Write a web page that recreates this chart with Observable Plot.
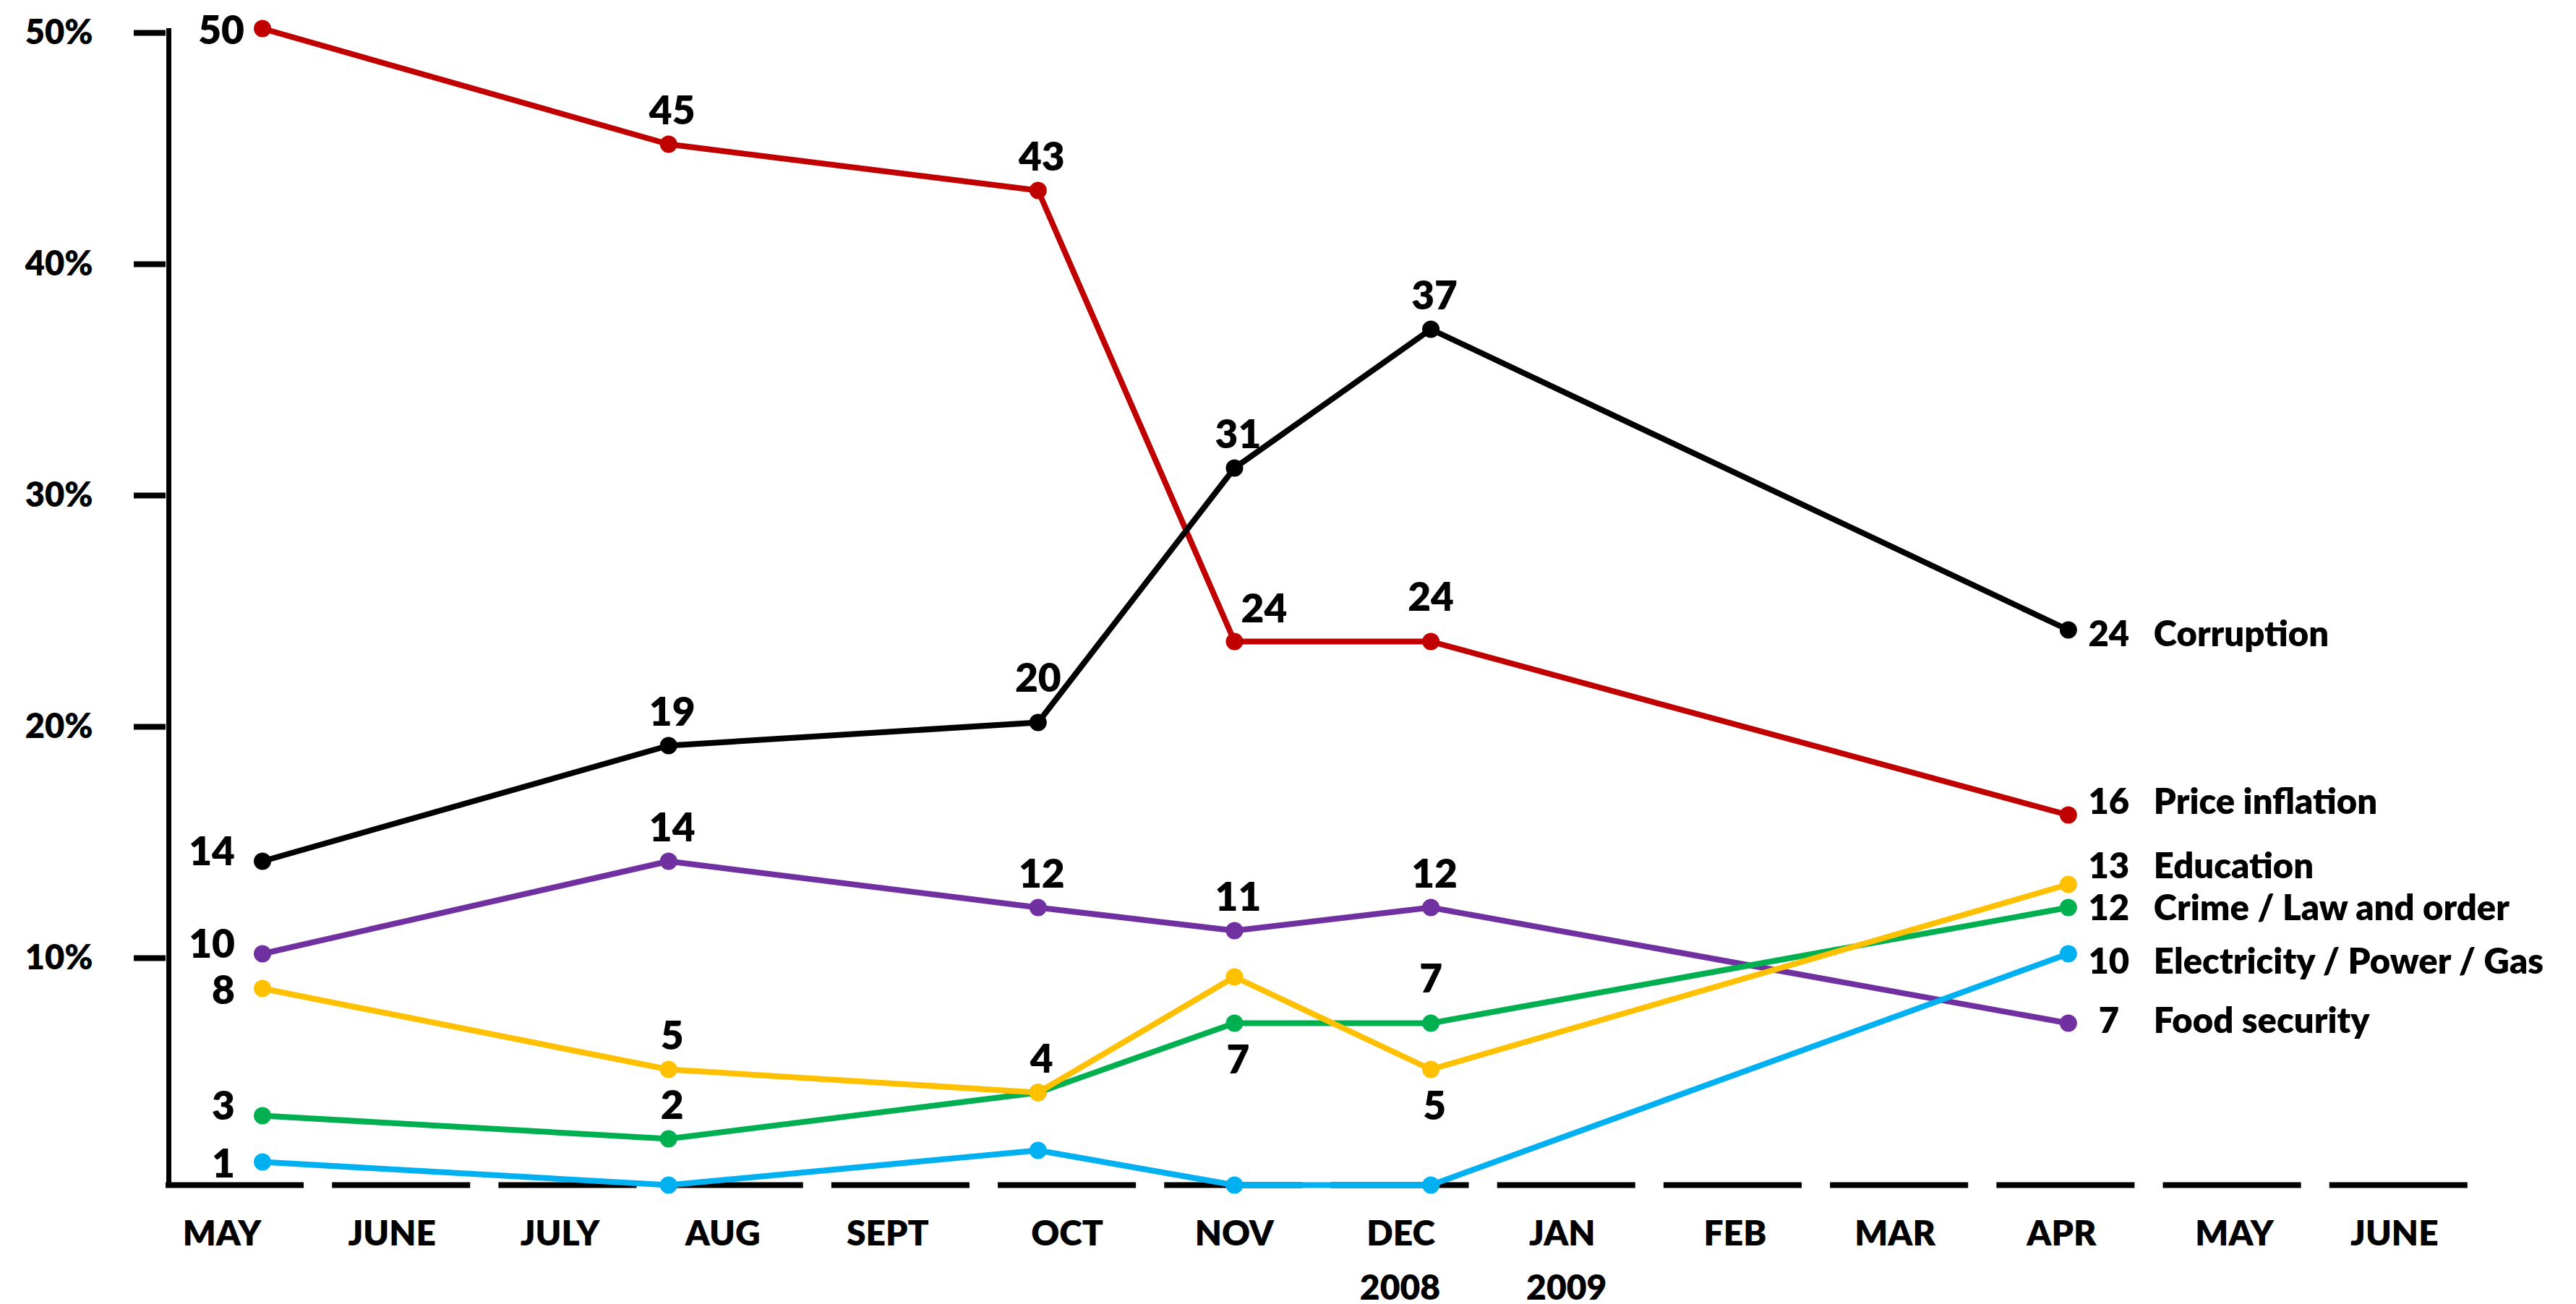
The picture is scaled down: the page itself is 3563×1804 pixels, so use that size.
<!DOCTYPE html>
<html>
<head>
<meta charset="utf-8">
<script src="https://cdn.jsdelivr.net/npm/d3@7"></script>
<script src="https://cdn.jsdelivr.net/npm/@observablehq/plot@0.6"></script>
<style>
  html, body { margin: 0; padding: 0; background: #fff; }
  svg { display: block; }
</style>
</head>
<body>
<div id="chart"></div>
<script>
// ---------- DATA ----------
const months = ["MAY","JUNE","JULY","AUG","SEPT","OCT","NOV","DEC","JAN","FEB","MAR","APR","MAY","JUNE"];
const yearLabels = ["2008", "2009"];          // under DEC and JAN
const yearLabelMonths = [7, 8];
// survey dates, in months since the start of May 2008
const surveyMonths = [0.58, 3.02, 5.24, 6.42, 7.60, 11.43];
const yTicks = [10, 20, 30, 40, 50];

const seriesNames = ["Food security", "Crime / Law and order", "Education", "Electricity / Power / Gas", "Price inflation", "Corruption"];
const seriesColors = ["#7030A0", "#00B050", "#FFC000", "#00B0F0", "#C00000", "#000000"];

const foodSecurity   = [10, 14, 12, 11, 12, 7];
const crime          = [3, 2, 4, 7, 7, 12];
const education      = [8.5, 5, 4, 9, 5, 13];
const electricity    = [1, 0, 1.5, 0, 0, 10];
const priceInflation = [50, 45, 43, 23.5, 23.5, 16];
const corruption     = [14, 19, 20, 31, 37, 24];

const foodSecurityLabels   = ["10", "14", "12", "11", "12", "7"];
const crimeLabels          = ["3", "2", null, "7", "7", "12"];
const educationLabels      = ["8", "5", "4", null, "5", "13"];
const electricityLabels    = ["1", null, null, null, null, "10"];
const priceInflationLabels = ["50", "45", "43", "24", "24", "16"];
const corruptionLabels     = ["14", "19", "20", "31", "37", "24"];

// ---------- LAYOUT (label placement) ----------
const monthLabelNudgePx = [-18, -13, -11, -16, -18, 0, 1, 1, -6, 3, -6, -6, 3, -6];
const placement = {
  "Food security":             ["left", "above", "above", "above", "above", "end"],
  "Crime / Law and order":     ["left", "above", null, "below", "above2", "end"],
  "Education":                 ["leftLow", "above", "above", null, "below", "end"],
  "Electricity / Power / Gas": ["leftLow", null, null, null, null, "end"],
  "Price inflation":           ["leftTop", "above", "above", "aboveRight", "above2", "end"],
  "Corruption":                ["left", "above", "above2", "above", "above", "end"]
};
const offsets = {
  left:       {dx: -38, dy: -12, textAnchor: "end"},
  leftLow:    {dx: -38, dy: 4,   textAnchor: "end"},
  leftTop:    {dx: -25, dy: 4,   textAnchor: "end"},
  above:      {dx: 5,   dy: -45, textAnchor: "middle"},
  above2:     {dx: 0,   dy: -60, textAnchor: "middle"},
  below:      {dx: 5,   dy: 52,  textAnchor: "middle"},
  aboveRight: {dx: 41,  dy: -44, textAnchor: "middle"}
};
const endDy = {
  "Corruption": 7, "Price inflation": -17, "Education": -24,
  "Crime / Law and order": 2, "Electricity / Power / Gas": 12, "Food security": -2
};

const valueArrays = [foodSecurity, crime, education, electricity, priceInflation, corruption];
const labelArrays = [foodSecurityLabels, crimeLabels, educationLabels, electricityLabels, priceInflationLabels, corruptionLabels];

const rows = [];
seriesNames.forEach((name, s) => {
  valueArrays[s].forEach((v, i) => {
    rows.push({series: name, x: surveyMonths[i], y: v, label: labelArrays[s][i], place: placement[name][i]});
  });
});

const FONT = "Lato, 'Open Sans', sans-serif";
const WEIGHT = 800;
const PX_PER_MONTH = (3563 - 229 - 111) / 14;

const valueLabelMarks = Object.entries(offsets).map(([code, o]) =>
  Plot.text(rows.filter(r => r.place === code && r.label != null), {
    x: "x", y: "y", text: "label", dx: o.dx, dy: o.dy, textAnchor: o.textAnchor,
    fontSize: 55, fontWeight: WEIGHT, fill: "black"
  })
);

const endRows = rows.filter(r => r.place === "end");
const endMarks = seriesNames.flatMap(name => {
  const d = endRows.filter(r => r.series === name);
  return [
    Plot.text(d, {x: "x", y: "y", text: "label", dx: 56, dy: endDy[name], textAnchor: "middle",
      fontSize: 49, fontWeight: WEIGHT, fill: "black"}),
    Plot.text(d, {x: "x", y: "y", text: "series", dx: 118, dy: endDy[name], textAnchor: "start",
      fontSize: 49, fontWeight: WEIGHT, fill: "black"})
  ];
});

const monthIdx = months.map((m, i) => i);

const chart = Plot.plot({
  width: 3563,
  height: 1804,
  marginLeft: 229,
  marginRight: 111,
  marginTop: 39,
  marginBottom: 165,
  style: {fontFamily: FONT, background: "white", color: "black", overflow: "visible"},
  x: {domain: [0, 14], axis: null},
  y: {domain: [0, 50]},
  color: {domain: seriesNames, range: seriesColors},
  marks: [
    // dashed baseline: one dash per month
    Plot.ruleY(monthIdx, {x1: d => d, x2: d => d + 0.83, y: 0, stroke: "black", strokeWidth: 8}),
    // vertical axis line
    Plot.ruleX([0], {y1: 0, y2: 50, stroke: "black", strokeWidth: 7, dx: 4}),
    Plot.axisY({
      ticks: yTicks, tickFormat: d => d + "%", tickSize: 44, tickPadding: 57,
      strokeWidth: 8, fontSize: 47, fontWeight: WEIGHT, label: null, dy: 6
    }),
    // month labels
    Plot.text(months, {x: (d, i) => i + 0.415 + monthLabelNudgePx[i] / PX_PER_MONTH, y: 0, text: d => d, dy: 68,
      fontSize: 48, fontWeight: WEIGHT, fill: "black"}),
    Plot.text(yearLabels, {x: (d, i) => yearLabelMonths[i] + 0.415, y: 0, text: d => d, dy: 143,
      fontSize: 48, fontWeight: WEIGHT, fill: "black"}),
    // lines and points
    Plot.line(rows, {x: "x", y: "y", z: "series", stroke: "series", strokeWidth: 8}),
    Plot.dot(rows, {x: "x", y: "y", fill: "series", r: 12}),
    ...valueLabelMarks,
    ...endMarks
  ]
});

document.getElementById("chart").append(chart);
</script>
</body>
</html>
